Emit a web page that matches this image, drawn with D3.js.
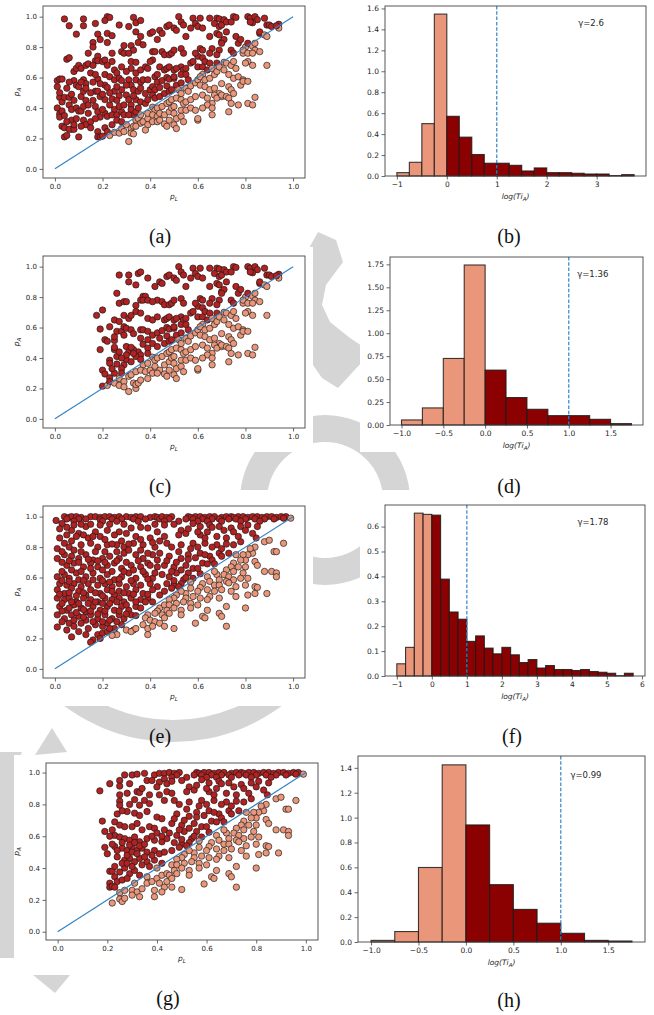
<!DOCTYPE html>
<html>
<head>
<meta charset="utf-8">
<script src="https://cdn.jsdelivr.net/npm/d3@7"></script>
<style>
  body { margin: 0; background: #fff; }
  svg { display: block; }
</style>
</head>
<body>
<svg id="fig" width="654" height="1015"></svg>
<script>
// ---- data: scatter points [pL, pA] ----
// (a) and (c) share the same points for pL >= 0.45
const sharedAC = [
  [0.45,0.89],[0.47,0.935],[0.48,0.945],[0.5,0.925],[0.45,0.77],[0.46,0.75],[0.48,0.75],[0.49,0.76],[0.46,0.65],[0.47,0.66],
  [0.48,0.67],[0.5,0.65],[0.45,0.58],[0.47,0.6],[0.48,0.59],[0.5,0.595],[0.47,0.545],[0.46,0.495],[0.48,0.51],[0.49,0.52],
  [0.45,0.41],[0.47,0.43],[0.48,0.44],[0.49,0.455],[0.46,0.355],[0.48,0.375],[0.49,0.4],[0.5,0.365],[0.46,0.295],[0.47,0.28],
  [0.48,0.32],[0.5,0.29],[0.52,1.0],[0.53,0.965],[0.54,0.945],[0.58,0.99],[0.59,0.955],[0.51,0.91],[0.55,0.87],[0.57,0.925],
  [0.6,0.935],[0.5,0.78],[0.53,0.79],[0.54,0.76],[0.53,0.67],[0.54,0.65],[0.55,0.66],[0.57,0.695],[0.58,0.705],[0.6,0.67],
  [0.51,0.66],[0.5,0.605],[0.53,0.62],[0.55,0.62],[0.56,0.585],[0.51,0.55],[0.53,0.565],[0.6,0.74],[0.59,0.76],
  [0.52,0.52],[0.53,0.495],[0.55,0.53],[0.56,0.51],[0.57,0.545],[0.59,0.565],[0.6,0.585],[0.51,0.465],[0.53,0.455],[0.54,0.43],
  [0.55,0.44],[0.57,0.455],[0.59,0.475],[0.5,0.41],[0.53,0.385],[0.55,0.385],[0.57,0.4],[0.59,0.385],[0.51,0.33],[0.53,0.345],
  [0.54,0.31],[0.51,0.265],[0.6,0.32],
  [0.61,0.99],[0.65,0.99],[0.68,0.99],[0.69,0.985],[0.67,0.955],[0.69,0.935],[0.7,0.945],[0.62,0.925],[0.68,0.89],[0.69,0.88],
  [0.65,0.87],[0.7,0.835],[0.61,0.79],[0.62,0.78],[0.66,0.79],[0.69,0.78],[0.65,0.76],[0.68,0.75],[0.62,0.73],[0.63,0.705],
  [0.65,0.695],[0.68,0.695],[0.62,0.67],[0.64,0.65],[0.66,0.66],[0.62,0.62],
  [0.61,0.605],[0.63,0.585],[0.65,0.595],[0.67,0.62],[0.68,0.64],[0.69,0.67],[0.61,0.55],[0.63,0.54],[0.65,0.52],[0.67,0.53],
  [0.69,0.495],[0.7,0.475],[0.62,0.485],[0.64,0.465],[0.66,0.43],[0.67,0.485],[0.68,0.465],[0.64,0.42],[0.62,0.4],[0.66,0.4],
  [0.6,0.33],[0.66,0.355],
  [0.75,1.0],[0.76,0.995],[0.71,0.98],[0.72,0.965],[0.74,0.965],[0.71,0.85],[0.76,0.87],[0.77,0.825],[0.78,0.85],[0.74,0.78],
  [0.75,0.76],[0.7,0.825],[0.72,0.9],
  [0.79,0.76],[0.8,0.8],[0.79,0.78],[0.71,0.7],[0.72,0.695],[0.74,0.68],[0.75,0.705],[0.76,0.66],[0.71,0.65],[0.73,0.62],
  [0.75,0.595],[0.77,0.605],[0.79,0.585],[0.7,0.56],[0.73,0.54],[0.74,0.52],[0.78,0.55],[0.7,0.485],[0.72,0.475],[0.73,0.465],
  [0.75,0.495],[0.74,0.43],[0.77,0.42],[0.79,0.575],[0.73,0.375],[0.81,0.76],
  [0.81,1.0],[0.82,0.99],[0.84,1.0],[0.85,0.98],[0.83,0.96],[0.82,0.965],[0.88,0.99],[0.86,0.89],[0.86,0.9],[0.88,0.88],
  [0.89,0.945],[0.81,0.825],[0.83,0.805],[0.84,0.825],[0.84,0.78],[0.83,0.76],[0.86,0.77],[0.81,0.705],[0.8,0.695],[0.83,0.68],
  [0.89,0.68],[0.81,0.575],[0.81,0.43],[0.83,0.42],[0.84,0.47],[0.89,0.87],
  [0.9,0.945],[0.91,0.935],[0.94,0.95],[0.94,0.925],[0.93,0.94]
];

const leftA = [
  [0.01,0.58],[0.01,0.54],[0.02,0.59],[0.03,0.59],[0.02,0.47],[0.01,0.4],[0.02,0.36],[0.02,0.34],[0.03,0.38],[0.03,0.44],
  [0.04,0.47],[0.03,0.28],[0.04,0.27],[0.04,0.21],[0.04,0.985],[0.06,0.94],[0.05,0.72],[0.06,0.73],[0.06,0.47],[0.07,0.49],
  [0.06,0.42],[0.07,0.39],[0.07,0.32],[0.07,0.26],[0.06,0.26],[0.08,0.26],[0.09,0.885],[0.08,0.64],[0.09,0.66],[0.1,0.68],
  [0.08,0.58],[0.09,0.55],[0.1,0.54],[0.08,0.45],[0.09,0.4],[0.1,0.38],[0.08,0.29],[0.1,0.21],[0.05,0.22],
  [0.12,0.985],[0.12,0.94],[0.11,0.66],[0.13,0.68],[0.14,0.69],[0.12,0.585],[0.13,0.56],[0.11,0.475],[0.12,0.51],[0.13,0.53],
  [0.11,0.38],[0.12,0.41],[0.14,0.365],[0.12,0.32],[0.13,0.29],[0.15,0.31],[0.16,0.83],[0.16,0.8],[0.17,0.955],[0.17,0.71],
  [0.18,0.74],[0.18,0.71],[0.18,0.885],[0.19,0.85],[0.18,0.59],[0.16,0.57],[0.17,0.51],[0.18,0.51],[0.19,0.475],[0.16,0.45],
  [0.17,0.41],[0.18,0.375],[0.19,0.34],[0.17,0.33],[0.15,0.27],[0.18,0.245],[0.18,0.21],[0.19,0.21],[0.2,0.215],
  [0.22,1.0],[0.23,0.995],[0.21,0.975],[0.22,0.89],[0.22,0.83],[0.24,0.875],[0.2,0.705],[0.21,0.715],[0.22,0.68],[0.24,0.705],
  [0.21,0.62],[0.23,0.605],[0.21,0.55],[0.22,0.535],[0.25,0.585],[0.25,0.65],[0.26,0.63],[0.27,0.595],[0.27,0.945],[0.28,0.77],
  [0.29,0.76],[0.29,0.81],[0.25,0.51],[0.27,0.48],[0.28,0.52],[0.3,0.485],[0.21,0.455],[0.23,0.42],[0.25,0.39],[0.21,0.365],
  [0.22,0.345],[0.24,0.355],[0.26,0.355],[0.28,0.375],[0.29,0.355],[0.26,0.32],[0.28,0.31],[0.24,0.29],[0.21,0.27],[0.22,0.245],
  [0.23,0.22],[0.25,0.24],[0.27,0.235],[0.28,0.265],[0.29,0.245],[0.3,0.29],[0.31,0.18],
  [0.31,0.935],[0.33,0.995],[0.34,0.96],[0.36,0.975],[0.34,0.9],[0.36,0.87],[0.32,0.81],[0.33,0.78],[0.35,0.83],[0.37,0.815],
  [0.31,0.76],[0.32,0.705],[0.34,0.7],[0.32,0.66],[0.34,0.63],[0.36,0.65],[0.38,0.67],[0.39,0.66],[0.31,0.585],[0.32,0.55],
  [0.34,0.585],[0.36,0.57],[0.37,0.585],[0.39,0.585],[0.33,0.52],[0.35,0.51],[0.36,0.53],[0.38,0.495],[0.4,0.52],[0.31,0.455],
  [0.32,0.42],[0.34,0.455],[0.36,0.44],[0.38,0.43],[0.39,0.455],[0.32,0.39],[0.33,0.355],[0.34,0.375],[0.35,0.4],[0.31,0.355],
  [0.34,0.32],[0.35,0.33],[0.36,0.355],[0.36,0.3],[0.37,0.31],[0.39,0.33],[0.39,0.365],[0.32,0.265],[0.33,0.28],[0.34,0.28],
  [0.32,0.235],[0.33,0.23],[0.39,0.29],[0.38,0.255],
  [0.4,0.89],[0.41,0.9],[0.44,0.91],[0.43,0.85],[0.41,0.77],[0.42,0.77],[0.41,0.715],[0.4,0.705],[0.44,0.67],[0.42,0.605],
  [0.43,0.62],[0.43,0.57],[0.41,0.54],[0.42,0.52],[0.44,0.535],[0.41,0.485],[0.42,0.465],[0.44,0.475],
  [0.41,0.405],[0.42,0.385],[0.43,0.4],[0.41,0.355],[0.43,0.345],[0.44,0.365],[0.41,0.31],[0.43,0.31],[0.44,0.32],
  [0.02,0.5],[0.05,0.53],[0.04,0.35],[0.05,0.31],[0.06,0.57],[0.09,0.33],[0.11,0.28],[0.11,0.57],[0.13,0.45],[0.14,0.42],
  [0.15,0.5],[0.15,0.63],[0.17,0.62],[0.14,0.76],[0.16,0.68],[0.19,0.56],[0.2,0.49],[0.2,0.39],[0.23,0.5],[0.24,0.46],
  [0.26,0.45],[0.27,0.41],[0.29,0.42],[0.3,0.55],[0.28,0.58],[0.26,0.54],[0.3,0.64],[0.28,0.67],[0.24,0.76],[0.33,0.48]
];

const leftC = [
  [0.175,0.68],[0.19,0.59],[0.19,0.455],[0.2,0.32],[0.2,0.715],[0.21,0.52],[0.22,0.51],[0.25,0.515],[0.2,0.215],[0.21,0.295],
  [0.23,0.27],[0.23,0.385],[0.23,0.365],[0.25,0.455],[0.25,0.47],[0.26,0.41],[0.26,0.825],[0.27,0.76],[0.27,0.945],[0.31,0.945],
  [0.25,0.54],[0.26,0.575],[0.25,0.65],[0.27,0.64],[0.28,0.575],[0.29,0.55],[0.23,0.605],[0.29,0.77],[0.3,0.77],[0.29,0.68],
  [0.31,0.66],[0.32,0.68],[0.29,0.605],[0.3,0.595],[0.32,0.585],[0.33,0.56],[0.3,0.475],[0.31,0.44],[0.3,0.39],[0.32,0.375],
  [0.29,0.355],[0.28,0.33],[0.28,0.3],[0.31,0.9],[0.34,0.88],[0.35,0.955],[0.36,0.965],[0.34,0.745],[0.36,0.78],[0.37,0.805],
  [0.22,0.22],[0.23,0.245],[0.25,0.235],[0.27,0.265],[0.27,0.22],[0.29,0.245],[0.29,0.21],[0.31,0.18],[0.34,0.2],[0.33,0.235],
  [0.34,0.225],[0.31,0.28],[0.32,0.29],[0.34,0.31],
  [0.39,0.925],[0.38,0.805],[0.37,0.78],[0.39,0.78],[0.34,0.705],[0.36,0.695],[0.39,0.66],[0.41,0.65],[0.43,0.67],[0.42,0.87],
  [0.44,0.9],[0.43,0.78],[0.41,0.77],[0.36,0.585],[0.37,0.585],[0.39,0.575],[0.36,0.53],[0.39,0.52],[0.41,0.55],[0.43,0.565],
  [0.44,0.53],[0.37,0.49],[0.39,0.465],[0.41,0.495],[0.43,0.475],[0.35,0.44],[0.36,0.42],[0.39,0.43],[0.33,0.455],[0.34,0.41],
  [0.36,0.39],[0.37,0.355],[0.39,0.365],[0.41,0.405],[0.42,0.385],[0.43,0.4],[0.36,0.32],[0.38,0.31],[0.4,0.32],[0.42,0.345],
  [0.44,0.32],[0.39,0.265],[0.41,0.3],[0.43,0.3],[0.35,0.235],[0.36,0.255],
  [0.3,0.42],[0.33,0.43],[0.32,0.47],[0.27,0.44],[0.28,0.4],[0.26,0.36],[0.25,0.3],[0.24,0.33]
];

// (e) and (g) share the same points for pL >= 0.45
const sharedEG = [
  [0.45,1.0],[0.47,0.995],[0.49,1.0],[0.56,1.0],[0.57,0.995],[0.59,1.0],[0.61,1.0],[0.63,0.995],[0.65,1.0],[0.67,1.0],
  [0.7,0.995],[0.72,1.0],[0.74,1.0],[0.75,0.995],[0.77,1.0],[0.79,1.0],[0.81,0.995],[0.83,1.0],[0.85,1.0],[0.87,0.995],
  [0.89,1.0],[0.91,1.0],[0.93,0.995],[0.95,1.0],[0.97,1.0],[0.99,0.99],
  [0.48,0.985],[0.55,0.985],[0.58,0.985],[0.62,0.985],[0.66,0.985],[0.69,0.985],[0.73,0.985],[0.76,0.985],[0.8,0.985],[0.84,0.985],
  [0.88,0.985],[0.92,0.985],[0.96,0.99],
  [0.46,0.97],[0.52,0.97],[0.6,0.97],[0.64,0.97],[0.7,0.97],[0.78,0.97],[0.86,0.97],
  [0.46,0.945],[0.53,0.91],[0.58,0.955],[0.61,0.935],[0.65,0.945],[0.69,0.935],[0.74,0.925],[0.78,0.935],[0.81,0.945],[0.85,0.935],
  [0.46,0.87],[0.55,0.89],[0.61,0.88],[0.64,0.9],[0.68,0.87],[0.72,0.86],[0.77,0.87],[0.845,0.86],[0.83,0.89],
  [0.47,0.825],[0.53,0.815],[0.58,0.825],[0.63,0.825],[0.68,0.815],[0.75,0.815],[0.78,0.835],
  [0.48,0.74],[0.53,0.725],[0.56,0.75],[0.61,0.76],[0.65,0.74],[0.69,0.76],[0.46,0.68],[0.5,0.67],[0.55,0.68],[0.58,0.66],
  [0.62,0.695],[0.66,0.715],[0.45,0.62],[0.48,0.605],[0.51,0.63],[0.54,0.585],[0.58,0.595],[0.61,0.625],[0.47,0.56],[0.5,0.55],
  [0.53,0.56],[0.46,0.51],
  [0.5,0.95],[0.52,0.88],[0.56,0.92],[0.6,0.9],[0.63,0.86],[0.66,0.93],[0.71,0.91],[0.75,0.9],[0.8,0.91],[0.49,0.8],
  [0.52,0.77],[0.57,0.79],[0.6,0.8],[0.66,0.8],[0.7,0.79],[0.72,0.82],[0.47,0.71],[0.51,0.7],[0.56,0.72],[0.59,0.73],
  [0.63,0.75],[0.7,0.74],[0.73,0.76],[0.49,0.64],[0.53,0.65],[0.56,0.63],[0.6,0.66],[0.64,0.69],[0.67,0.69],[0.5,0.58],
  [0.55,0.6],[0.57,0.57],[0.49,0.53],[0.52,0.54],
  [0.84,0.8],[0.88,0.835],[0.9,0.845],[0.96,0.825],[0.92,0.77],[0.93,0.77],[0.83,0.76],[0.81,0.75],[0.8,0.715],[0.79,0.75],
  [0.82,0.79],[0.88,0.64],[0.91,0.64],[0.93,0.63],[0.93,0.605],[0.84,0.705],[0.85,0.68],[0.78,0.715],[0.76,0.75],[0.75,0.695],
  [0.74,0.67],[0.77,0.67],[0.8,0.67],[0.72,0.65],[0.75,0.64],[0.79,0.63],[0.71,0.62],[0.73,0.605],[0.68,0.62],[0.67,0.64],
  [0.69,0.585],[0.72,0.575],[0.75,0.585],[0.78,0.595],[0.81,0.595],[0.64,0.605],[0.65,0.575],[0.62,0.56],[0.67,0.55],[0.69,0.55],
  [0.73,0.565],[0.76,0.54],[0.8,0.55],[0.84,0.54],[0.85,0.535],[0.61,0.535],[0.64,0.52],[0.67,0.51],[0.7,0.52],[0.74,0.51],
  [0.84,0.495],[0.89,0.495],[0.81,0.485],[0.57,0.53],[0.6,0.51],[0.55,0.495],[0.53,0.51],[0.51,0.485],[0.5,0.465],[0.55,0.465],
  [0.58,0.475],[0.61,0.465],[0.65,0.475],[0.69,0.465],[0.76,0.475],[0.72,0.41],[0.8,0.4],[0.48,0.455],[0.46,0.42],[0.48,0.42],
  [0.51,0.43],[0.54,0.44],[0.57,0.43],[0.6,0.42],[0.64,0.455],[0.47,0.385],[0.5,0.4],[0.53,0.385],[0.57,0.4],[0.64,0.385],
  [0.45,0.355],[0.48,0.365],[0.53,0.355],[0.62,0.345],[0.63,0.335],[0.69,0.365],[0.7,0.345],[0.46,0.335],[0.5,0.265],[0.46,0.28],
  [0.59,0.3],[0.72,0.28]
];

const leftE = [
  [0.04,1.0],[0.06,0.995],[0.07,1.0],[0.09,1.0],[0.11,0.995],[0.15,1.0],[0.17,1.0],[0.19,0.995],[0.21,1.0],[0.23,1.0],
  [0.25,0.995],[0.27,1.0],[0.3,1.0],[0.32,0.995],[0.34,1.0],[0.36,1.0],[0.4,0.995],[0.42,1.0],[0.43,0.995],
  [0.05,0.985],[0.1,0.985],[0.13,0.985],[0.19,0.98],[0.24,0.985],[0.28,0.985],[0.33,0.985],[0.38,0.985],[0.44,0.985],
  [0.005,0.975],[0.08,0.97],[0.2,0.97],[0.26,0.97],[0.35,0.97],
  [0.03,0.955],[0.07,0.91],[0.08,0.945],[0.1,0.89],[0.13,0.935],[0.17,0.9],[0.19,0.945],[0.22,0.91],[0.27,0.9],[0.32,0.925],
  [0.39,0.925],[0.43,0.9],[0.05,0.88],[0.09,0.87],[0.14,0.86],[0.19,0.87],[0.25,0.88],[0.3,0.89],[0.34,0.87],[0.4,0.86],
  [0.01,0.79],[0.04,0.825],[0.06,0.8],[0.11,0.815],[0.15,0.825],[0.18,0.8],[0.22,0.815],[0.26,0.815],[0.29,0.8],[0.33,0.825],
  [0.37,0.815],[0.42,0.8],
  [0.01,0.725],[0.04,0.75],[0.07,0.74],[0.1,0.725],[0.13,0.75],[0.16,0.715],[0.2,0.725],[0.23,0.74],[0.27,0.725],[0.29,0.76],
  [0.34,0.75],[0.37,0.725],[0.41,0.75],[0.43,0.715],
  [0.05,0.68],[0.08,0.695],[0.12,0.67],[0.15,0.695],[0.18,0.67],[0.22,0.68],[0.25,0.695],[0.28,0.66],[0.32,0.68],[0.36,0.67],
  [0.39,0.695],[0.43,0.67],
  [0.01,0.605],[0.04,0.62],[0.06,0.595],[0.09,0.63],[0.13,0.605],[0.16,0.63],[0.19,0.595],[0.22,0.62],[0.25,0.585],[0.28,0.605],
  [0.31,0.63],[0.34,0.595],[0.38,0.62],[0.41,0.595],
  [0.02,0.56],[0.05,0.55],[0.08,0.56],[0.11,0.54],[0.14,0.56],[0.18,0.55],[0.21,0.56],[0.24,0.54],[0.27,0.56],[0.3,0.54],
  [0.33,0.56],[0.36,0.55],[0.4,0.56],[0.43,0.54],
  [0.01,0.52],[0.04,0.495],[0.07,0.53],[0.1,0.51],[0.13,0.485],[0.15,0.52],[0.19,0.495],[0.22,0.52],[0.25,0.485],[0.27,0.51],
  [0.31,0.495],[0.34,0.52],[0.37,0.495],[0.41,0.52],[0.44,0.485],
  [0.01,0.465],[0.04,0.455],[0.06,0.465],[0.09,0.44],[0.12,0.465],[0.15,0.455],[0.18,0.44],[0.21,0.465],[0.24,0.455],[0.27,0.465],
  [0.29,0.44],[0.32,0.465],[0.36,0.455],[0.39,0.465],[0.41,0.44],
  [0.02,0.41],[0.05,0.385],[0.08,0.42],[0.11,0.4],[0.13,0.375],[0.16,0.41],[0.19,0.385],[0.22,0.41],[0.25,0.385],[0.28,0.41],
  [0.31,0.385],[0.34,0.41],[0.36,0.4],
  [0.01,0.355],[0.04,0.33],[0.07,0.355],[0.1,0.345],[0.13,0.32],[0.15,0.355],[0.18,0.33],[0.21,0.355],[0.24,0.33],[0.27,0.355],
  [0.29,0.33],[0.32,0.355],[0.34,0.35],
  [0.06,0.3],[0.08,0.28],[0.11,0.3],[0.14,0.265],[0.17,0.29],[0.2,0.28],[0.22,0.3],[0.25,0.265],[0.28,0.29],[0.01,0.275],
  [0.05,0.255],[0.1,0.245],[0.13,0.225],[0.07,0.21],[0.18,0.225],[0.19,0.2],[0.16,0.19],[0.15,0.175],[0.2,0.235],[0.22,0.245],
  [0.23,0.265],
  [0.03,0.7],[0.06,0.71],[0.1,0.7],[0.14,0.72],[0.18,0.71],[0.21,0.7],[0.26,0.71],[0.3,0.7],[0.35,0.71],[0.4,0.68],
  [0.03,0.64],[0.07,0.65],[0.11,0.64],[0.15,0.66],[0.2,0.65],[0.24,0.64],[0.29,0.64],[0.33,0.65],[0.37,0.64],[0.42,0.63],
  [0.03,0.58],[0.06,0.575],[0.1,0.585],[0.12,0.58],[0.16,0.585],[0.2,0.58],[0.23,0.57],[0.27,0.59],[0.32,0.58],[0.39,0.59],
  [0.02,0.49],[0.06,0.5],[0.09,0.48],[0.12,0.5],[0.17,0.5],[0.2,0.48],[0.24,0.51],[0.29,0.5],[0.33,0.49],[0.39,0.49],
  [0.03,0.43],[0.07,0.44],[0.1,0.43],[0.14,0.43],[0.17,0.44],[0.2,0.43],[0.23,0.43],[0.26,0.44],[0.3,0.42],[0.34,0.44],[0.38,0.44],
  [0.03,0.38],[0.06,0.4],[0.09,0.37],[0.12,0.39],[0.15,0.38],[0.18,0.36],[0.21,0.38],[0.27,0.38],[0.3,0.36],
  [0.03,0.31],[0.08,0.32],[0.12,0.34],[0.16,0.31],[0.2,0.31],[0.23,0.32],[0.26,0.31],
  [0.02,0.86],[0.07,0.84],[0.12,0.88],[0.16,0.87],[0.21,0.85],[0.24,0.82],[0.28,0.84],[0.31,0.82],[0.36,0.85],[0.41,0.83],[0.44,0.84],
  [0.02,0.92],[0.05,0.93],[0.11,0.95],[0.15,0.95],[0.23,0.95],[0.29,0.95],[0.36,0.93],[0.42,0.95],
  [0.03,0.77],[0.08,0.78],[0.11,0.77],[0.17,0.77],[0.21,0.77],[0.26,0.77],[0.31,0.78],[0.36,0.78],[0.39,0.76],[0.44,0.76],
  [0.39,0.355],[0.38,0.335],[0.4,0.32],[0.42,0.31],[0.44,0.3],[0.37,0.29],[0.39,0.265],[0.41,0.28],[0.33,0.255],[0.3,0.255],
  [0.32,0.245],[0.34,0.265],[0.25,0.235],[0.26,0.225],[0.24,0.22],[0.39,0.225],[0.44,0.4],[0.43,0.38],[0.42,0.365]
];

const leftG = [
  [0.17,0.885],[0.21,0.93],[0.25,0.95],[0.25,0.915],[0.27,0.985],[0.3,0.985],[0.32,0.99],[0.35,0.995],[0.36,0.95],[0.39,0.985],
  [0.41,0.995],[0.43,0.995],[0.41,0.94],[0.43,0.96],[0.44,0.93],[0.4,0.91],[0.37,0.86],[0.32,0.88],[0.33,0.875],[0.25,0.86],
  [0.25,0.82],[0.25,0.795],[0.28,0.87],[0.33,0.795],[0.35,0.825],[0.37,0.805],[0.41,0.86],[0.43,0.825],[0.28,0.755],[0.31,0.745],
  [0.33,0.73],[0.36,0.755],[0.4,0.72],[0.42,0.71],[0.23,0.69],[0.25,0.67],[0.27,0.66],[0.3,0.66],[0.32,0.68],[0.34,0.64],
  [0.37,0.66],[0.39,0.65],[0.43,0.64],[0.18,0.695],[0.19,0.63],[0.23,0.605],[0.25,0.595],[0.27,0.585],[0.29,0.575],[0.31,0.595],
  [0.33,0.565],[0.36,0.585],[0.39,0.575],[0.42,0.565],[0.44,0.585],[0.19,0.53],[0.2,0.49],[0.23,0.535],[0.26,0.525],[0.28,0.51],
  [0.3,0.535],[0.32,0.51],[0.34,0.525],[0.36,0.5],[0.39,0.51],[0.41,0.49],[0.43,0.5],[0.24,0.47],[0.27,0.45],[0.29,0.46],
  [0.31,0.44],[0.33,0.46],[0.36,0.44],[0.39,0.45],[0.42,0.43],[0.21,0.38],[0.22,0.38],[0.23,0.41],[0.25,0.375],[0.27,0.4],
  [0.29,0.365],[0.31,0.385],[0.33,0.355],[0.23,0.345],[0.24,0.315],[0.26,0.325],[0.28,0.335],[0.21,0.305],[0.21,0.28],[0.22,0.285],
  [0.23,0.28],
  [0.36,0.345],[0.31,0.305],[0.25,0.245],[0.27,0.26],[0.3,0.26],[0.32,0.25],[0.34,0.27],[0.36,0.305],[0.38,0.315],[0.4,0.335],
  [0.42,0.355],[0.44,0.365],[0.41,0.305],[0.39,0.26],[0.43,0.28],[0.44,0.315],[0.22,0.18],[0.25,0.205],[0.26,0.19],[0.27,0.21],
  [0.33,0.22],[0.39,0.22],[0.42,0.25],[0.3,0.23],
  [0.26,0.56],[0.29,0.545],[0.31,0.56],[0.33,0.54],[0.35,0.55],[0.28,0.48],[0.3,0.5],[0.32,0.49],[0.35,0.47],[0.38,0.48],
  [0.26,0.43],[0.28,0.43],[0.3,0.41],[0.34,0.42],[0.37,0.41],[0.4,0.4],[0.24,0.51],[0.22,0.55],[0.21,0.6],[0.22,0.64],
  [0.24,0.74],[0.26,0.76],[0.29,0.8],[0.31,0.83],[0.34,0.9],[0.29,0.93],[0.38,0.95],[0.44,0.88],[0.38,0.6],[0.4,0.62],[0.42,0.6]
];

const pointsA = leftA.concat(sharedAC);
const pointsC = leftC.concat(sharedAC);
const pointsE = leftE.concat(sharedEG);
const pointsG = leftG.concat(sharedEG);

const diagonal = [[0, 0], [1, 1]];
const scatterTicks = [0, 0.2, 0.4, 0.6, 0.8, 1.0];

// ---- data: histogram densities, bins of 0.25 starting at -1 ----
const binStart = -1;
const binWidth = 0.25;
const histB = [0.032, 0.131, 0.5, 1.546, 0.57, 0.371, 0.205, 0.122, 0.122, 0.102, 0.048, 0.077, 0.032, 0.032, 0.026, 0.019, 0.019, 0.004, 0.013];
const histD = [0.055, 0.186, 0.725, 1.743, 0.598, 0.299, 0.171, 0.102, 0.102, 0.062, 0.015];
const histF = [0.049, 0.115, 0.654, 0.649, 0.646, 0.389, 0.257, 0.228, 0.139, 0.161, 0.112, 0.089, 0.115, 0.085, 0.054, 0.066,
               0.032, 0.042, 0.026, 0.026, 0.022, 0.026, 0.018, 0.015, 0.011, 0.001, 0.011];
const histH = [0.013, 0.084, 0.599, 1.424, 0.941, 0.461, 0.262, 0.151, 0.07, 0.013, 0.008];

const xTicksB = [-1, 0, 1, 2, 3];
const xTicksD = [-1, -0.5, 0, 0.5, 1, 1.5];
const xTicksF = [-1, 0, 1, 2, 3, 4, 5, 6];
const xTicksH = [-1, -0.5, 0, 0.5, 1, 1.5];
const yTicksB = [0, 0.2, 0.4, 0.6, 0.8, 1.0, 1.2, 1.4, 1.6];
const yTicksD = [0, 0.25, 0.5, 0.75, 1.0, 1.25, 1.5, 1.75];
const yTicksF = [0, 0.1, 0.2, 0.3, 0.4, 0.5, 0.6];
const yTicksH = [0, 0.2, 0.4, 0.6, 0.8, 1.0, 1.2, 1.4];

const threshold = 1;
const gammaLabels = ['γ=2.6', 'γ=1.36', 'γ=1.78', 'γ=0.99'];
const captions = ['(a)', '(b)', '(c)', '(d)', '(e)', '(f)', '(g)', '(h)'];

// ---- styles ----
const darkRed = '#b22222';
const salmon = '#e9967a';
const barDark = '#8b0000';
const lineBlue = '#3483c4';
const wmGray = '#d5d5d5';
const axisGray = '#444';
const textCol = '#262626';
const sans = 'DejaVu Sans, sans-serif';

const svg = d3.select('#fig');
svg.append('rect').attr('width', 654).attr('height', 1015).attr('fill', '#fff');

// ---- watermark behind the panels ----
const wm = svg.append('g').attr('fill', wmGray);
wm.append('path')
  .attr('transform', 'translate(325,500)')
  .attr('d', d3.arc()({ innerRadius: 58, outerRadius: 85, startAngle: 0, endAngle: 2 * Math.PI }));
wm.append('path')
  .attr('transform', 'translate(173,560)')
  .attr('d', d3.arc()({ innerRadius: 160, outerRadius: 182, startAngle: 0.75 * Math.PI, endAngle: 1.25 * Math.PI }));
const wmPolys = [
  [[318,232],[336,240],[343,262],[326,285],[322,305],[330,322],[350,338],[362,346],[362,362],[338,388],[322,378],[313,365],[313,270],[308,250]],
  [[52,728],[35,755],[67,752]],
  [[0,752],[22,752],[14,770],[14,958],[0,958]],
  [[33,975],[70,975],[55,993]]
];
wm.selectAll('polygon.wm').data(wmPolys).enter().append('polygon')
  .attr('points', d => d.map(p => p.join(',')).join(' '));

// white backgrounds of the embedded plot images
const imageRects = [
  [10, 0, 303, 212], [360, 0, 294, 212],
  [10, 247, 303, 205], [360, 247, 294, 205],
  [10, 490, 303, 216], [360, 490, 294, 216],
  [14, 755, 311, 220], [325, 750, 329, 225]
];
svg.selectAll('rect.img').data(imageRects).enter().append('rect')
  .attr('class', 'img')
  .attr('x', d => d[0]).attr('y', d => d[1])
  .attr('width', d => d[2]).attr('height', d => d[3])
  .attr('fill', '#fff');

const styleAxis = (sel, size) => {
  sel.select('.domain').remove();
  sel.selectAll('.tick line').attr('stroke', axisGray).attr('stroke-width', 0.8);
  sel.selectAll('.tick text')
    .attr('fill', textCol)
    .attr('font-family', sans)
    .attr('font-size', size);
};

const drawScatter = (frame, points) => {
  const g = svg.append('g');
  const x = d3.scaleLinear().domain(frame.xd).range([frame.x0, frame.x1]);
  const y = d3.scaleLinear().domain(frame.yd).range([frame.y1, frame.y0]);

  g.append('g')
    .attr('transform', `translate(0,${frame.y1})`)
    .call(d3.axisBottom(x).tickValues(scatterTicks).tickFormat(d3.format('.1f'))
      .tickSize(3.5).tickPadding(2.5).tickSizeOuter(0))
    .call(styleAxis, 7);
  g.append('g')
    .attr('transform', `translate(${frame.x0},0)`)
    .call(d3.axisLeft(y).tickValues(scatterTicks).tickFormat(d3.format('.1f'))
      .tickSize(3.5).tickPadding(2.5).tickSizeOuter(0))
    .call(styleAxis, 7);

  g.append('g').selectAll('circle').data(points).enter().append('circle')
    .attr('cx', d => x(d[0]))
    .attr('cy', d => y(d[1]))
    .attr('r', 3.2)
    .attr('fill', d => d[1] > d[0] ? darkRed : salmon)
    .attr('stroke', '#1a1a1a')
    .attr('stroke-opacity', 0.85)
    .attr('stroke-width', 0.8);

  g.append('path').datum(diagonal)
    .attr('d', d3.line().x(d => x(d[0])).y(d => y(d[1])))
    .attr('fill', 'none')
    .attr('stroke', lineBlue)
    .attr('stroke-width', 1.2);

  g.append('rect')
    .attr('x', frame.x0).attr('y', frame.y0)
    .attr('width', frame.x1 - frame.x0).attr('height', frame.y1 - frame.y0)
    .attr('fill', 'none').attr('stroke', axisGray).attr('stroke-width', 0.9);

  // axis labels p_L and p_A
  const xl = g.append('text')
    .attr('x', (frame.x0 + frame.x1) / 2).attr('y', frame.y1 + 21)
    .attr('text-anchor', 'middle')
    .attr('font-family', sans).attr('font-size', 7.5).attr('fill', textCol);
  xl.append('tspan').attr('font-style', 'italic').text('p');
  xl.append('tspan').attr('font-style', 'italic').attr('font-size', 5.5).attr('dy', 1.5).text('L');

  const cy = (frame.y0 + frame.y1) / 2;
  const yl = g.append('text')
    .attr('transform', `translate(${frame.ylabX},${cy}) rotate(-90)`)
    .attr('text-anchor', 'middle')
    .attr('font-family', sans).attr('font-size', 7.5).attr('fill', textCol);
  yl.append('tspan').attr('font-style', 'italic').text('p');
  yl.append('tspan').attr('font-style', 'italic').attr('font-size', 5.5).attr('dy', 1.5).text('A');
};

const drawHist = (frame, heights, xTicks, xFmt, yTicks, yFmt, gamma) => {
  const g = svg.append('g');
  const lo = binStart;
  const hi = binStart + heights.length * binWidth;
  const pad = 0.05 * (hi - lo);
  const x = d3.scaleLinear().domain([lo - pad, hi + pad]).range([frame.x0, frame.x1]);
  const y = d3.scaleLinear().domain([0, d3.max(heights) * 1.05]).range([frame.y1, frame.y0]);

  g.append('g')
    .attr('transform', `translate(0,${frame.y1})`)
    .call(d3.axisBottom(x).tickValues(xTicks).tickFormat(d3.format(xFmt))
      .tickSize(3.5).tickPadding(2.5).tickSizeOuter(0))
    .call(styleAxis, 7.5);
  g.append('g')
    .attr('transform', `translate(${frame.x0},0)`)
    .call(d3.axisLeft(y).tickValues(yTicks).tickFormat(d3.format(yFmt))
      .tickSize(3.5).tickPadding(2.5).tickSizeOuter(0))
    .call(styleAxis, 7.5);

  const bins = heights.map((h, i) => ({ x0: binStart + i * binWidth, h }));
  g.append('g').selectAll('rect').data(bins).enter().append('rect')
    .attr('x', d => x(d.x0))
    .attr('width', d => x(d.x0 + binWidth) - x(d.x0))
    .attr('y', d => y(d.h))
    .attr('height', d => y(0) - y(d.h))
    .attr('fill', d => d.x0 < 0 ? salmon : barDark)
    .attr('stroke', '#1a1a1a')
    .attr('stroke-opacity', 0.85)
    .attr('stroke-width', 1.1);

  g.append('line')
    .attr('x1', x(threshold)).attr('x2', x(threshold))
    .attr('y1', frame.y0).attr('y2', frame.y1)
    .attr('stroke', lineBlue).attr('stroke-width', 1.2)
    .attr('stroke-dasharray', '3.5,1.8');

  g.append('rect')
    .attr('x', frame.x0).attr('y', frame.y0)
    .attr('width', frame.x1 - frame.x0).attr('height', frame.y1 - frame.y0)
    .attr('fill', 'none').attr('stroke', axisGray).attr('stroke-width', 0.9);

  g.append('text')
    .attr('x', frame.x0 + 0.74 * (frame.x1 - frame.x0))
    .attr('y', frame.y0 + 0.1 * (frame.y1 - frame.y0) + 3)
    .attr('font-family', sans).attr('font-size', 8.5).attr('fill', textCol)
    .text(gamma);

  const xl = g.append('text')
    .attr('x', (frame.x0 + frame.x1) / 2).attr('y', frame.y1 + 23)
    .attr('text-anchor', 'middle')
    .attr('font-family', sans).attr('font-size', 7.5).attr('font-style', 'italic').attr('fill', textCol);
  xl.append('tspan').text('log(Ti');
  xl.append('tspan').attr('font-size', 5.5).attr('dy', 1.5).text('A');
  xl.append('tspan').attr('dy', -1.5).text(')');
};

// ---- layout of the eight panels ----
const scatterFrames = [
  { x0: 43, x1: 305, y0: 6, y1: 178, xd: [-0.05, 1.05], yd: [-0.06, 1.07], ylabX: 19 },
  { x0: 43, x1: 305, y0: 256, y1: 428, xd: [-0.05, 1.05], yd: [-0.06, 1.07], ylabX: 19 },
  { x0: 43, x1: 305, y0: 506, y1: 678, xd: [-0.05, 1.05], yd: [-0.06, 1.07], ylabX: 19 },
  { x0: 46, x1: 318, y0: 763, y1: 940, xd: [-0.047, 1.049], yd: [-0.052, 1.06], ylabX: 19 }
];
const histFrames = [
  { x0: 385, x1: 646, y0: 6, y1: 176 },
  { x0: 390, x1: 643, y0: 257, y1: 425 },
  { x0: 385, x1: 645, y0: 505, y1: 676 },
  { x0: 358, x1: 645, y0: 756, y1: 942 }
];

drawScatter(scatterFrames[0], pointsA);
drawScatter(scatterFrames[1], pointsC);
drawScatter(scatterFrames[2], pointsE);
drawScatter(scatterFrames[3], pointsG);

drawHist(histFrames[0], histB, xTicksB, 'd', yTicksB, '.1f', gammaLabels[0]);
drawHist(histFrames[1], histD, xTicksD, '.1f', yTicksD, '.2f', gammaLabels[1]);
drawHist(histFrames[2], histF, xTicksF, 'd', yTicksF, '.1f', gammaLabels[2]);
drawHist(histFrames[3], histH, xTicksH, '.1f', yTicksH, '.1f', gammaLabels[3]);

// ---- sub-figure captions ----
const captionPos = [[160, 243], [509, 243], [160, 493], [509, 493], [160, 743], [512, 743], [168, 1005], [509, 1007]];
svg.selectAll('text.caption').data(captions).enter().append('text')
  .attr('class', 'caption')
  .attr('x', (d, i) => captionPos[i][0])
  .attr('y', (d, i) => captionPos[i][1])
  .attr('text-anchor', 'middle')
  .attr('font-family', 'Liberation Serif, Times New Roman, serif')
  .attr('font-size', 20)
  .attr('fill', '#111')
  .text(d => d);
</script>
</body>
</html>
